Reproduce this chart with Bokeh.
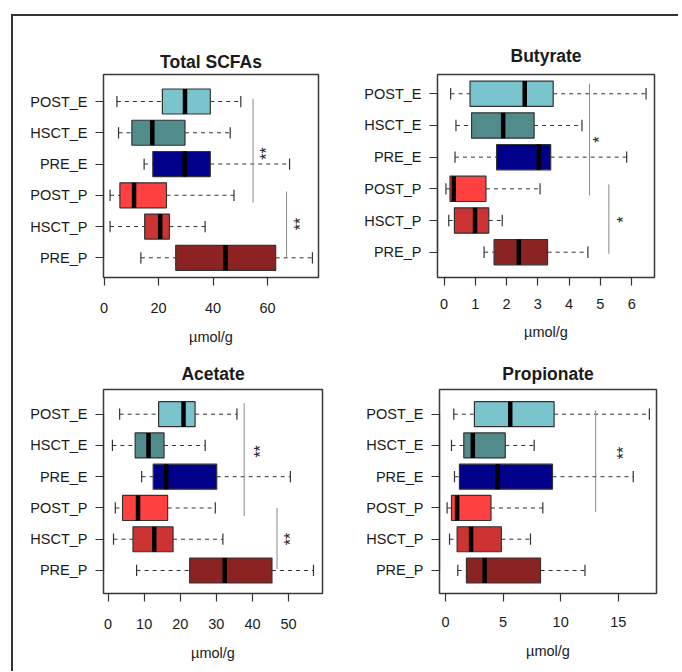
import math
from bokeh.plotting import figure
from bokeh.models import Range1d, FixedTicker, ColumnDataSource, Title
from bokeh.layouts import column, row
from bokeh.embed import file_html
from bokeh.resources import INLINE
from bokeh.core.properties import value

# ---------------- data ----------------
categories = ["PRE_P", "HSCT_P", "POST_P", "PRE_E", "HSCT_E", "POST_E"]
positions = [1, 2, 3, 4, 5, 6]
box_colors = ["#8B2323", "#CD3333", "#FF4040", "#00008B", "#528B8B", "#7AC5CD"]

total_low = [13.5, 2.2, 2.2, 14.7, 5.3, 4.7]
total_q1 = [26.3, 14.9, 5.8, 17.9, 10.2, 21.4]
total_med = [44.6, 20.6, 11.0, 29.6, 17.7, 29.7]
total_q3 = [63.0, 24.0, 22.9, 39.0, 29.7, 39.0]
total_high = [76.5, 37.1, 47.7, 68.1, 46.3, 50.2]
total_ticks = [0, 20, 40, 60]
total_sig_x = [54.7, 67.0]
total_sig_from = [2.77, 1.01]
total_sig_to = [6.09, 3.12]
total_sig_label = ["**", "**"]
total_sig_lx = [58.4, 71.2]
total_sig_ly = [4.34, 2.08]

but_low = [1.28, 0.15, 0.06, 0.35, 0.38, 0.21]
but_q1 = [1.60, 0.33, 0.19, 1.68, 0.88, 0.83]
but_med = [2.39, 0.99, 0.31, 3.03, 1.89, 2.58]
but_q3 = [3.31, 1.43, 1.34, 3.41, 2.88, 3.49]
but_high = [4.60, 1.86, 3.07, 5.84, 4.41, 6.46]
but_ticks = [0, 1, 2, 3, 4, 5, 6]
but_sig_x = [4.65, 5.27]
but_sig_from = [2.79, 0.95]
but_sig_to = [6.32, 3.14]
but_sig_label = ["*", "*"]
but_sig_lx = [4.86, 5.64]
but_sig_ly = [4.55, 2.03]

ace_low = [7.9, 1.5, 2.0, 9.3, 1.2, 3.2]
ace_q1 = [22.6, 6.9, 4.0, 12.5, 7.5, 14.0]
ace_med = [32.3, 12.8, 8.3, 16.1, 11.2, 20.9]
ace_q3 = [45.4, 18.0, 16.5, 30.1, 15.5, 24.1]
ace_high = [56.9, 31.8, 29.7, 50.5, 26.9, 35.7]
ace_ticks = [0, 10, 20, 30, 40, 50]
ace_sig_x = [37.7, 46.8]
ace_sig_from = [2.74, 1.05]
ace_sig_to = [6.35, 3.0]
ace_sig_label = ["**", "**"]
ace_sig_lx = [41.4, 49.7]
ace_sig_ly = [4.81, 2.01]

pro_low = [1.07, 0.35, 0.14, 0.78, 0.52, 0.72]
pro_q1 = [1.82, 1.01, 0.52, 1.21, 1.59, 2.51]
pro_med = [3.40, 2.22, 1.01, 4.53, 2.37, 5.62]
pro_q3 = [8.25, 4.85, 3.95, 9.29, 5.19, 9.43]
pro_high = [12.11, 7.38, 8.45, 16.3, 7.70, 17.7]
pro_ticks = [0, 5, 10, 15]
pro_sig_x = [13.04]
pro_sig_from = [2.87]
pro_sig_to = [6.12]
pro_sig_label = ["**"]
pro_sig_lx = [15.23]
pro_sig_ly = [4.76]

unit_label = "µmol/g"
FONT = "Liberation Sans"
TXT = "#1a1a1a"


def panel(title, low, q1, med, q3, high, ticks, sx, sfrom, sto, slab, slx, sly,
          xr, yr, w, h, mbl, mbr, mbt, mbb, title_standoff, tick_standoff, unit_standoff):
    p = figure(width=w, height=h, x_range=Range1d(*xr), y_range=Range1d(*yr),
               output_backend="svg", toolbar_location=None,
               min_border_left=mbl, min_border_right=mbr,
               min_border_top=mbt, min_border_bottom=mbb,
               title=title)
    p.grid.visible = False
    p.outline_line_color = "#3a3a3a"
    p.outline_line_width = 1.5
    p.background_fill_color = "white"
    p.border_fill_color = "white"

    p.title.align = "center"
    p.title.text_font = FONT
    p.title.text_font_size = "17.5px"
    p.title.text_font_style = "bold"
    p.title.text_color = TXT
    p.title.standoff = title_standoff

    src = ColumnDataSource(dict(
        y=positions, low=low, q1=q1, med=med, q3=q3, high=high, color=box_colors,
        cap0=[v - 0.18 for v in positions], cap1=[v + 0.18 for v in positions],
        b0=[v - 0.4 for v in positions], b1=[v + 0.4 for v in positions],
    ))
    p.segment(x0="low", y0="y", x1="q1", y1="y", source=src,
              line_color="#333333", line_width=1, line_dash="4 4")
    p.segment(x0="q3", y0="y", x1="high", y1="y", source=src,
              line_color="#333333", line_width=1, line_dash="4 4")
    p.segment(x0="low", y0="cap0", x1="low", y1="cap1", source=src,
              line_color="#333333", line_width=1.2)
    p.segment(x0="high", y0="cap0", x1="high", y1="cap1", source=src,
              line_color="#333333", line_width=1.2)
    p.hbar(y="y", left="q1", right="q3", height=0.8, fill_color="color",
           line_color="#333333", line_width=1.2, source=src)
    p.segment(x0="med", y0="b0", x1="med", y1="b1", source=src,
              line_color="black", line_width=4.5, line_cap="butt")

    ssrc = ColumnDataSource(dict(x=sx, y0=sfrom, y1=sto, lab=slab, lx=slx, ly=sly))
    p.segment(x0="x", y0="y0", x1="x", y1="y1", source=ssrc,
              line_color="#8a8a8a", line_width=1)
    p.text(x="lx", y="ly", text="lab", source=ssrc, angle=math.pi / 2,
           text_align="center", text_baseline="middle", x_offset=3,
           text_font=value(FONT), text_font_size="16px", text_color=TXT)

    p.xaxis.ticker = FixedTicker(ticks=ticks)
    p.xaxis.bounds = (ticks[0], ticks[-1])
    p.yaxis.ticker = FixedTicker(ticks=positions)
    p.yaxis.major_label_overrides = {pos: c for pos, c in zip(positions, categories)}
    p.yaxis.bounds = (1, 6)
    p.axis.minor_tick_line_color = None
    p.axis.major_tick_in = 0
    p.axis.major_tick_out = 8
    p.axis.axis_line_color = "#333333"
    p.axis.axis_line_width = 1.2
    p.axis.major_tick_line_color = "#333333"
    p.axis.major_tick_line_width = 1.2
    p.axis.major_label_text_font = FONT
    p.axis.major_label_text_font_size = "14.5px"
    p.axis.major_label_text_color = TXT
    p.xaxis.major_label_standoff = tick_standoff
    p.yaxis.major_label_standoff = 8

    p.add_layout(Title(text=unit_label, align="center", text_font=FONT,
                       text_font_size="14.5px", text_font_style="normal",
                       text_color=TXT, standoff=unit_standoff), "below")
    return p


p1 = panel("Total SCFAs", total_low, total_q1, total_med, total_q3, total_high, total_ticks,
           total_sig_x, total_sig_from, total_sig_to, total_sig_label, total_sig_lx, total_sig_ly,
           (-0.22, 78.73), (0.370, 6.864), 327, 339, 90, 22, 58, 78, 5, 17, 22)
p2 = panel("Butyrate", but_low, but_q1, but_med, but_q3, but_high, but_ticks,
           but_sig_x, but_sig_from, but_sig_to, but_sig_label, but_sig_lx, but_sig_ly,
           (-0.21, 6.73), (0.201, 6.609), 338, 339, 97, 24, 58, 78, 17, 13, 21)
p3 = panel("Acetate", ace_low, ace_q1, ace_med, ace_q3, ace_high, ace_ticks,
           ace_sig_x, ace_sig_from, ace_sig_to, ace_sig_label, ace_sig_lx, ace_sig_ly,
           (-1.27, 59.4), (0.264, 6.790), 327, 316, 90, 18, 34, 78, 12, 17, 22)
p4 = panel("Propionate", pro_low, pro_q1, pro_med, pro_q3, pro_high, pro_ticks,
           pro_sig_x, pro_sig_from, pro_sig_to, pro_sig_label, pro_sig_lx, pro_sig_ly,
           (-0.52, 18.32), (0.264, 6.790), 338, 316, 99, 22, 34, 78, 12, 15, 23)

grid = column(row(p1, p2), row(p3, p4),
              styles={"border-left": "2px solid #333", "border-top": "2px solid #333"})
root = column(grid, margin=(14, 0, 0, 11))

open("out.html", "w").write(file_html(root, INLINE))
